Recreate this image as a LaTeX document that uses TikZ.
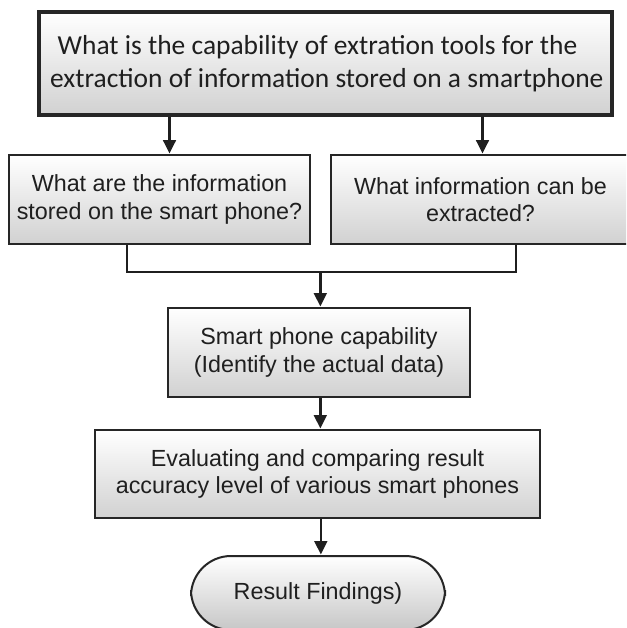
\documentclass[tikz,border=0pt]{standalone}
\usepackage{fontspec}
\setmainfont{Liberation Sans}
\newfontfamily\calibrifont{Carlito}
\usetikzlibrary{arrows.meta}

\begin{document}
\begin{tikzpicture}[x=0.75pt,y=0.75pt,yscale=-1,xscale=1,
  box/.style={draw=black!85, line width=1.5pt, top color=white, bottom color=black!18,
    align=center, inner sep=0pt, text=black!88, font=\fontsize{17.5}{20.5}\selectfont},
  link/.style={draw=black!88, line width=1.9pt},
  arr/.style={link, -{Triangle[length=10pt,width=9.5pt]}, shorten >=0.4pt}]
   	\clip (0,0) rectangle (626,628);
   	
   	\node [box, line width=2.3pt, minimum width=573*0.75pt, minimum height=103*0.75pt,
   	  font=\calibrifont\fontsize{20.6}{24.5}\selectfont] (q1) at (325.5,63.5)
   	  {\hspace*{-12pt}What is the capability of extration tools for the\\extraction of information stored on a smartphone\hspace*{-2pt}};
   	\node [box, minimum width=301*0.75pt, minimum height=89*0.75pt] (q2) at (159.5,199.5)
   	  {What are the information\\stored on the smart phone?};
   	\node [box, minimum width=299*0.75pt, minimum height=89*0.75pt] (q3) at (480.5,199.5)
   	  {What information can be\\extracted?};
   	\node [box, minimum width=302*0.75pt, minimum height=89*0.75pt] (cap) at (319,352.5)
   	  {Smart phone capability\\(Identify the actual data)};
   	\node [box, minimum width=445*0.75pt, minimum height=88*0.75pt] (eval) at (317.5,474)
   	  {Evaluating and comparing result\\accuracy level of various smart phones};
   	\node [box, rounded corners=30pt, minimum width=254*0.75pt, minimum height=74*0.75pt,
   	  bottom color=black!22] (find) at (318,593) {Result Findings)};
   	
   	%junction under the two questions
   	\coordinate (jl) at (127,272);
   	\coordinate (jr) at (516,272);
   	
   	\draw [arr] ([xshift=7.5]q2.north |- q1.south) -- ([xshift=7.5]q2.north);
   	\draw [arr] ([xshift=1.5]q3.north |- q1.south) -- ([xshift=1.5]q3.north);
   	\draw [link] (q2.south -| jl) -- (jl) -- (jr) -- (q3.south -| jr);
   	\draw [arr] ([xshift=1]cap.north |- jl) -- ([xshift=1]cap.north);
   	\draw [arr] ([xshift=1]cap.south) -- ([xshift=1]cap.south |- eval.north);
   	\draw [arr] ([xshift=2.5]eval.south) -- ([xshift=2.5]eval.south |- find.north);
   	
\end{tikzpicture}
\end{document}
